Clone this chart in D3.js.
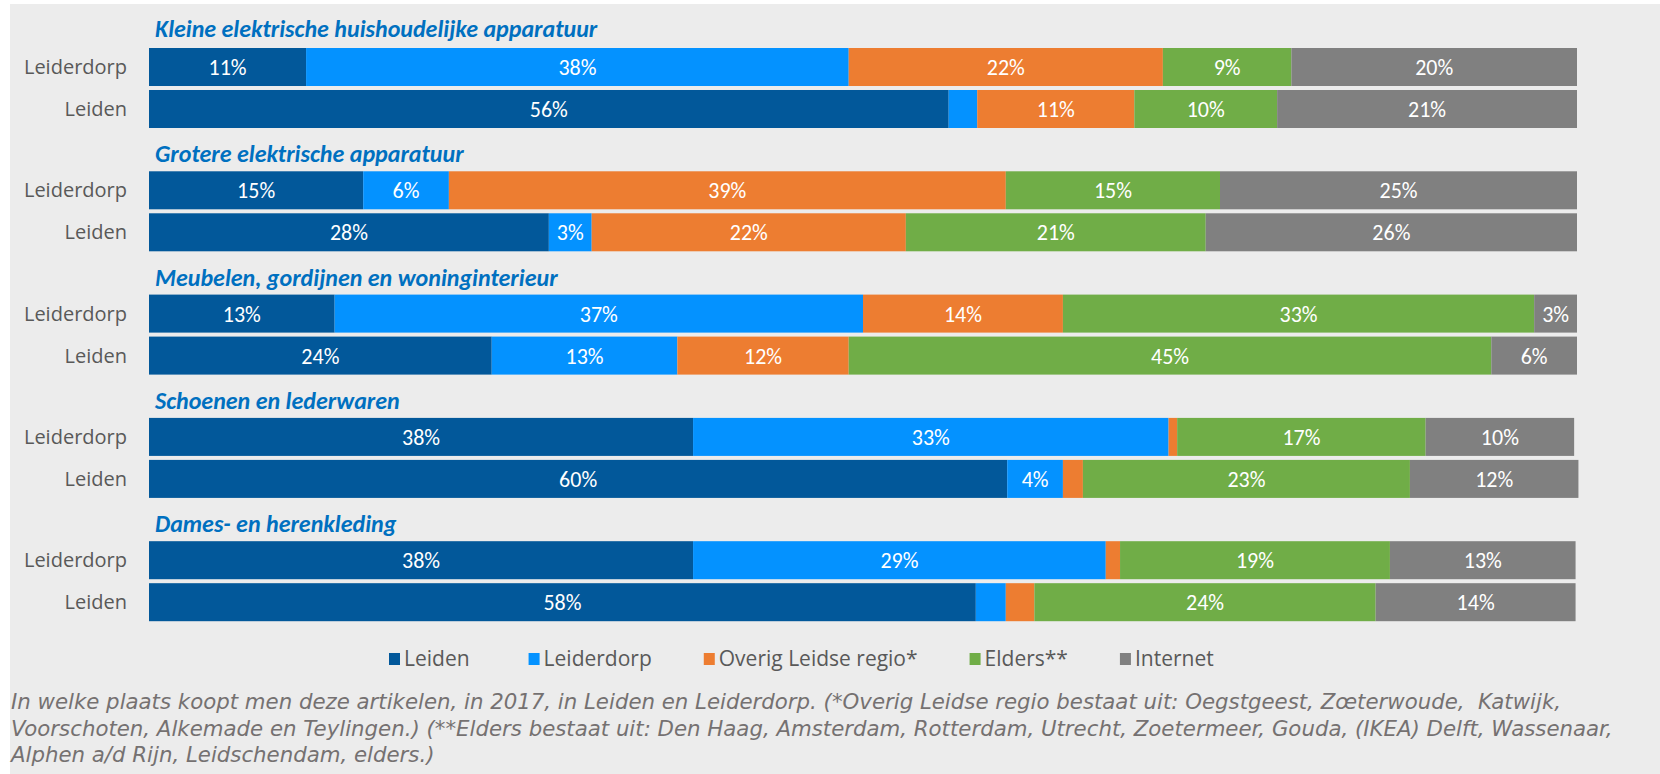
<!DOCTYPE html>
<html>
<head>
<meta charset="utf-8">
<script src="https://cdn.jsdelivr.net/npm/d3@7"></script>
<style>
  html, body { margin: 0; padding: 0; background: #fff; }
  svg { display: block; }
  text { font-family: Carlito, Lato, sans-serif; }
</style>
</head>
<body>
<div id="chart"></div>
<script>
// categories (one block per product group) and the two rows inside each block
const categories = [
  "Kleine elektrische huishoudelijke apparatuur",
  "Grotere elektrische apparatuur",
  "Meubelen, gordijnen en woninginterieur",
  "Schoenen en lederwaren",
  "Dames- en herenkleding"
];
const places = ["Leiderdorp", "Leiden"];

// series (where people buy), values per row: cat1 Leiderdorp, cat1 Leiden, cat2 Leiderdorp, ...
const seriesNames = ["Leiden", "Leiderdorp", "Overig Leidse regio*", "Elders**", "Internet"];
const leidenValues     = [11, 56, 15, 28, 13, 24, 38.1, 60.1, 38.1, 57.9];
const leiderdorpValues = [38, 2, 6, 3, 37, 13, 33.3, 3.9, 28.9, 2.1];
const overigValues     = [22, 11, 39, 22, 14, 12, 0.6, 1.4, 1.0, 2.0];
const eldersValues     = [9, 10, 15, 21, 33, 45, 17.4, 22.9, 18.9, 23.9];
const internetValues   = [20, 21, 25, 26, 3, 6, 10.4, 11.8, 13.0, 14.0];

const footnoteLines = [
  "In welke plaats koopt men deze artikelen, in 2017, in Leiden en Leiderdorp. (*Overig Leidse regio bestaat uit: Oegstgeest, Zœterwoude,  Katwijk,",
  "Voorschoten, Alkemade en Teylingen.) (**Elders bestaat uit: Den Haag, Amsterdam, Rotterdam, Utrecht, Zoetermeer, Gouda, (IKEA) Delft, Wassenaar,",
  "Alphen a/d Rijn, Leidschendam, elders.)"
];

const colors = ["#02589a", "#0492ff", "#ed7d31", "#70ad47", "#808080"];

const width = 1660;
const height = 774;

const seriesValues = [leidenValues, leiderdorpValues, overigValues, eldersValues, internetValues];
const rows = [];
categories.forEach((cat, ci) => {
  places.forEach((place, pi) => {
    const i = ci * places.length + pi;
    const row = { cat, place };
    seriesNames.forEach((s, si) => { row[s] = seriesValues[si][i]; });
    rows.push(row);
  });
});

const stacked = d3.stack().keys(seriesNames)(rows);

const x = d3.scaleLinear().domain([0, 100]).range([149, 1577]);
const yGroup = d3.scaleBand().domain(categories).range([10, 10 + 123.3 * categories.length]);
const yRow = d3.scaleBand().domain(places).range([38, 118]).paddingInner(0.095);
const color = d3.scaleOrdinal().domain(seriesNames).range(colors);

const rowY = (d) => yGroup(d.cat) + yRow(d.place);

const svg = d3.select("#chart").append("svg")
  .attr("width", width)
  .attr("height", height);

svg.append("rect")
  .attr("x", 10).attr("y", 4)
  .attr("width", width - 10).attr("height", height - 4)
  .attr("fill", "#ececec");

// group titles
svg.append("g").selectAll("text")
  .data(categories)
  .join("text")
  .attr("x", 155)
  .attr("y", (d, i) => yGroup(d) + (i === 0 ? 27 : 29))
  .attr("fill", "#0070c0")
  .attr("font-size", 24)
  .attr("font-style", "italic")
  .attr("font-weight", 600)
  .text((d) => d);

// row labels
svg.append("g").selectAll("text")
  .data(rows)
  .join("text")
  .attr("x", 127)
  .attr("y", (d) => rowY(d) + yRow.bandwidth() / 2)
  .attr("dy", "0.35em")
  .attr("text-anchor", "end")
  .attr("fill", "#595959")
  .attr("font-size", 20)
  .style("font-family", "'Open Sans', sans-serif")
  .text((d) => d.place);

// stacked segments
const layer = svg.append("g").selectAll("g")
  .data(stacked)
  .join("g")
  .attr("fill", (d) => color(d.key));

layer.selectAll("rect")
  .data((d) => d)
  .join("rect")
  .attr("x", (d) => x(d[0]))
  .attr("y", (d) => rowY(d.data))
  .attr("width", (d) => x(d[1]) - x(d[0]))
  .attr("height", yRow.bandwidth());

// value labels
const labels = svg.append("g").selectAll("g")
  .data(stacked)
  .join("g");

labels.selectAll("text")
  .data((d) => d.filter((p) => p[1] - p[0] >= 2.5))
  .join("text")
  .attr("x", (d) => (x(d[0]) + x(d[1])) / 2)
  .attr("y", (d) => rowY(d.data) + yRow.bandwidth() / 2)
  .attr("dy", "0.36em")
  .attr("text-anchor", "middle")
  .attr("fill", "#fff")
  .attr("font-size", 22)
  .text((d) => Math.round(d[1] - d[0]) + "%");

// legend
const legend = svg.append("g").attr("transform", "translate(389, 659)");
let lx = 0;
seriesNames.forEach((s, i) => {
  const item = legend.append("g").attr("transform", `translate(${lx}, 0)`);
  item.append("rect")
    .attr("x", 0).attr("y", -6)
    .attr("width", 11).attr("height", 12)
    .attr("fill", color(s));
  const t = item.append("text")
    .attr("x", 15)
    .attr("dy", "0.35em")
    .attr("fill", "#595959")
    .attr("font-size", 21)
    .style("font-family", "'Open Sans', sans-serif")
    .text(s);
  lx += 15 + t.node().getComputedTextLength() + (i === 0 ? 59 : 52);
});

// footnote, sized so the longest line spans the same width as the original
const foot = svg.append("g");
const footText = foot.selectAll("text")
  .data(footnoteLines)
  .join("text")
  .attr("x", 11)
  .attr("y", (d, i) => 709 + i * 26.5)
  .attr("fill", "#757171")
  .attr("font-style", "italic")
  .attr("font-size", 18)
  .style("font-family", "'DejaVu Sans', sans-serif")
  .style("white-space", "pre")
  .text((d) => d);
const longest = d3.max(footText.nodes(), (n) => n.getComputedTextLength());
footText.attr("font-size", 18 * 1603 / longest);
</script>
</body>
</html>
